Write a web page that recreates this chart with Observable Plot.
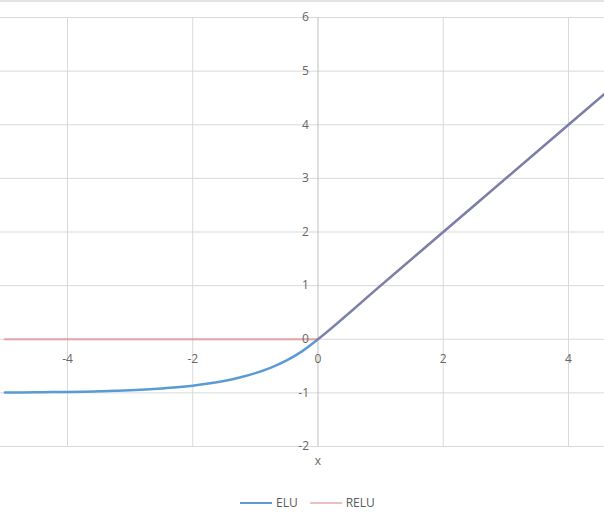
<!DOCTYPE html>
<html>
<head>
<meta charset="utf-8">
<script src="https://cdn.jsdelivr.net/npm/d3@7"></script>
<script src="https://cdn.jsdelivr.net/npm/@observablehq/plot@0.6"></script>
<style>
  html, body { margin: 0; padding: 0; background: #fff; }
  #wrap { position: relative; width: 604px; height: 529px; overflow: hidden; font-family: "Open Sans", "Liberation Sans", sans-serif; }
  #topline { position: absolute; left: 0; top: 0; width: 604px; height: 2px; background: #e3e3e3; }
  #legend { position: absolute; left: 240px; top: 494px; display: flex; align-items: center; font-size: 12px; color: #595959; }
  .item { display: flex; align-items: center; margin-right: 12px; }
  .swatch { width: 32px; height: 0; margin-right: 4px; }
</style>
</head>
<body>
<div id="wrap"><div id="topline"></div></div>
<script>
// ELU curve
const eluX = [-5, -4.75, -4.5, -4.25, -4, -3.75, -3.5, -3.25, -3, -2.75, -2.5, -2.25, -2, -1.75, -1.5, -1.25, -1, -0.75, -0.5, -0.25, 0, 1, 2, 3, 4, 4.7];
const eluY = [-0.993, -0.991, -0.989, -0.986, -0.982, -0.977, -0.970, -0.961, -0.950, -0.936, -0.918, -0.895, -0.865, -0.826, -0.777, -0.714, -0.632, -0.528, -0.394, -0.221, 0, 1, 2, 3, 4, 4.7];
// RELU
const reluX = [-5, 0, 4.7];
const reluY = [0, 0, 4.7];
// Tick labels
const xTicks = [-4, -2, 0, 2, 4];
const xGrid = [-4, -2, 2, 4];
const yTicks = [-2, -1, 0, 1, 2, 3, 4, 5, 6];
const seriesNames = ["ELU", "RELU"];
const seriesColors = ["#5b9bd5", "rgba(210,70,70,0.35)"];

const elu = eluX.map((x, i) => ({x, y: eluY[i]}));
const relu = reluX.map((x, i) => ({x, y: reluY[i]}));

const chart = Plot.plot({
  width: 604,
  height: 476,
  marginLeft: 0,
  marginRight: 0,
  marginTop: 17,
  marginBottom: 30,
  x: {domain: [-5.07, 4.575], axis: null},
  y: {domain: [-2, 6], axis: null},
  style: {fontFamily: "'Open Sans', 'Liberation Sans', sans-serif", fontSize: "12px", background: "transparent", overflow: "visible"},
  marks: [
    Plot.ruleY(yTicks, {stroke: "#d9d9d9", strokeWidth: 1}),
    Plot.ruleX(xGrid, {y1: -2, y2: 6, stroke: "#d9d9d9", strokeWidth: 1}),
    Plot.ruleX([0], {y1: -2, y2: 6, stroke: "#bfbfbf", strokeWidth: 1}),
    Plot.line(elu, {x: "x", y: "y", stroke: seriesColors[0], strokeWidth: 2.5, curve: "monotone-x"}),
    Plot.line(relu, {x: "x", y: "y", stroke: seriesColors[1], strokeWidth: 2.3}),
    Plot.text(yTicks, {x: 0, y: d => d, text: d => String(d), textAnchor: "end", dx: -9, fill: "#666"}),
    Plot.text(xTicks, {x: d => d, y: 0, text: d => String(d), dy: 20, fill: "#666"}),
    Plot.text(["x"], {x: 0, y: -2, text: d => d, dy: 15, fill: "#666"})
  ]
});
const wrap = document.getElementById("wrap");
chart.style.position = "absolute";
chart.style.left = "0px";
chart.style.top = "0px";
wrap.appendChild(chart);

const legend = document.createElement("div");
legend.id = "legend";
seriesNames.forEach((name, i) => {
  const item = document.createElement("div");
  item.className = "item";
  const sw = document.createElement("div");
  sw.className = "swatch";
  sw.style.borderTop = `2.5px solid ${seriesColors[i]}`;
  const label = document.createElement("span");
  label.textContent = name;
  item.appendChild(sw);
  item.appendChild(label);
  legend.appendChild(item);
});
wrap.appendChild(legend);
</script>
</body>
</html>
